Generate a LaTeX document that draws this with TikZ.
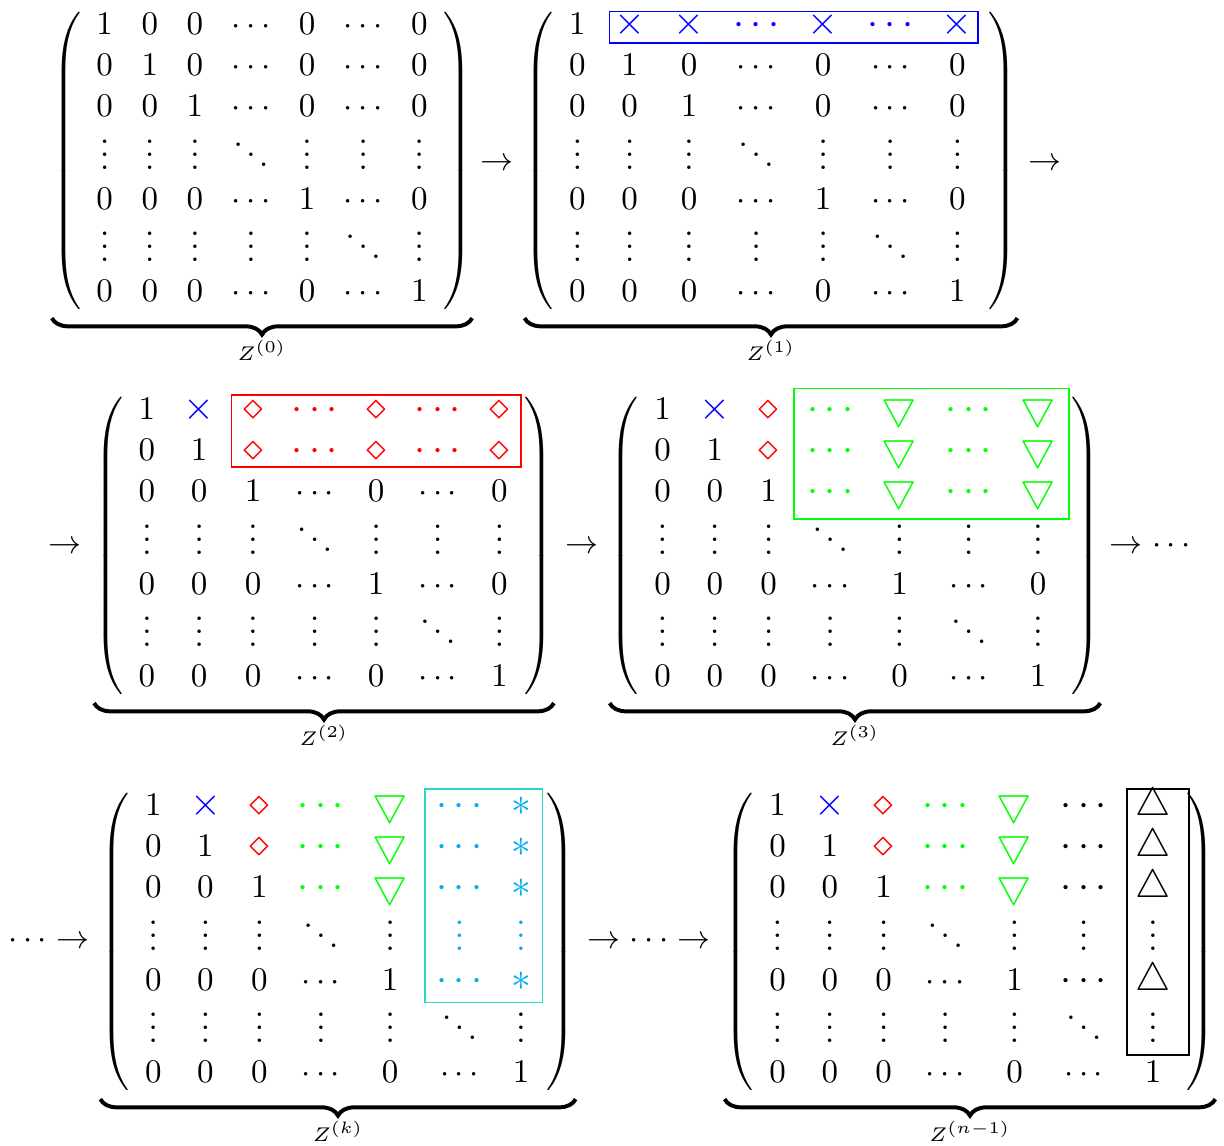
\documentclass[tikz,border=0pt]{standalone}
\usepackage{amsmath}
\usetikzlibrary{matrix,fit,decorations.pathreplacing}
\definecolor{zcyan}{RGB}{0,174,239}
\definecolor{zturq}{RGB}{40,215,200}
\tikzset{
  zmat/.style ={matrix of math nodes, left delimiter=(, right delimiter=),
                inner sep=0pt, column sep=2pt, row sep=1.3pt,
                nodes={inner xsep=3.33pt, inner ysep=0pt,
                       text height=7.7pt, text depth=3.5pt}},
  bx/.style   ={text=blue,  font=\large},
  rd/.style   ={text=red,   font=\large},
  gr/.style   ={text=green, font=\large},
  cy/.style   ={text=zcyan, font=\large},
  cyv/.style  ={text=zcyan},
  bk/.style   ={font=\large},
  zbox/.style ={draw, inner sep=0pt, line width=0.45pt},
  zbrace/.style={decorate, decoration={brace, mirror, amplitude=5pt},
                 line width=1.2pt},
  zlab/.style ={font=\fontsize{6}{7}\selectfont, inner sep=1pt},
  arr/.style  ={anchor=base},
}

\begin{document}
\begin{tikzpicture}[x=0.30303pt, y=-0.30303pt]
  \useasboundingbox (0,0) rectangle (1224,1146);

  % ---- Z^(0) -----------------------------------------------------------
  \matrix[zmat] (z0) at (262,161) {
    1 & 0 & 0 & \cdots & 0 & \cdots & 0 \\
    0 & 1 & 0 & \cdots & 0 & \cdots & 0 \\
    0 & 0 & 1 & \cdots & 0 & \cdots & 0 \\[3.5pt]
    \vdots & \vdots & \vdots & \ddots & \vdots & \vdots & \vdots \\[-0.5pt]
    0 & 0 & 0 & \cdots & 1 & \cdots & 0 \\[3.5pt]
    \vdots & \vdots & \vdots & \vdots & \vdots & \ddots & \vdots \\[-0.5pt]
    0 & 0 & 0 & \cdots & 0 & \cdots & 1 \\
  };

  % ---- Z^(1) -----------------------------------------------------------
  \matrix[zmat] (z1) at (771,161) {
    1 & |[bx]|\times & |[bx]|\times & |[bx]|\cdots & |[bx]|\times & |[bx]|\cdots & |[bx]|\times \\
    0 & 1 & 0 & \cdots & 0 & \cdots & 0 \\
    0 & 0 & 1 & \cdots & 0 & \cdots & 0 \\[3.5pt]
    \vdots & \vdots & \vdots & \ddots & \vdots & \vdots & \vdots \\[-0.5pt]
    0 & 0 & 0 & \cdots & 1 & \cdots & 0 \\[3.5pt]
    \vdots & \vdots & \vdots & \vdots & \vdots & \ddots & \vdots \\[-0.5pt]
    0 & 0 & 0 & \cdots & 0 & \cdots & 1 \\
  };
  \node[zbox, draw=blue, inner xsep=-2pt, inner ysep=-1pt,
        fit=(z1-1-2)(z1-1-7)] (z1box) {};

  % ---- Z^(2) -----------------------------------------------------------
  \matrix[zmat] (z2) at (324,546) {
    1 & |[bx]|\times & |[rd]|\diamond & |[rd]|\cdots & |[rd]|\diamond & |[rd]|\cdots & |[rd]|\diamond \\
    0 & 1 & |[rd]|\diamond & |[rd]|\cdots & |[rd]|\diamond & |[rd]|\cdots & |[rd]|\diamond \\
    0 & 0 & 1 & \cdots & 0 & \cdots & 0 \\[3.5pt]
    \vdots & \vdots & \vdots & \ddots & \vdots & \vdots & \vdots \\[-0.5pt]
    0 & 0 & 0 & \cdots & 1 & \cdots & 0 \\[3.5pt]
    \vdots & \vdots & \vdots & \vdots & \vdots & \ddots & \vdots \\[-0.5pt]
    0 & 0 & 0 & \cdots & 0 & \cdots & 1 \\
  };
  \node[zbox, draw=red, inner ysep=-1.2pt, yshift=0.6pt,
        fit=(z2-1-3)(z2-2-7)] (z2box) {};

  % ---- Z^(3) -----------------------------------------------------------
  \matrix[zmat] (z3) at (855,546) {
    1 & |[bx]|\times & |[rd]|\diamond & |[gr]|\cdots & |[gr]|\bigtriangledown & |[gr]|\cdots & |[gr]|\bigtriangledown \\
    0 & 1 & |[rd]|\diamond & |[gr]|\cdots & |[gr]|\bigtriangledown & |[gr]|\cdots & |[gr]|\bigtriangledown \\
    0 & 0 & 1 & |[gr]|\cdots & |[gr]|\bigtriangledown & |[gr]|\cdots & |[gr]|\bigtriangledown \\[3.5pt]
    \vdots & \vdots & \vdots & \ddots & \vdots & \vdots & \vdots \\[-0.5pt]
    0 & 0 & 0 & \cdots & 1 & \cdots & 0 \\[3.5pt]
    \vdots & \vdots & \vdots & \vdots & \vdots & \ddots & \vdots \\[-0.5pt]
    0 & 0 & 0 & \cdots & 0 & \cdots & 1 \\
  };
  \node[zbox, draw=green, inner ysep=1.5pt, inner xsep=0.5pt,
        fit=(z3-1-4)(z3-3-7)] (z3box) {};

  % ---- Z^(k) -----------------------------------------------------------
  \matrix[zmat] (zk) at (338,942) {
    1 & |[bx]|\times & |[rd]|\diamond & |[gr]|\cdots & |[gr]|\bigtriangledown & |[cy]|\cdots & |[cy]|\ast \\
    0 & 1 & |[rd]|\diamond & |[gr]|\cdots & |[gr]|\bigtriangledown & |[cy]|\cdots & |[cy]|\ast \\
    0 & 0 & 1 & |[gr]|\cdots & |[gr]|\bigtriangledown & |[cy]|\cdots & |[cy]|\ast \\[3.5pt]
    \vdots & \vdots & \vdots & \ddots & \vdots & |[cyv]|\vdots & |[cyv]|\vdots \\[-0.5pt]
    0 & 0 & 0 & \cdots & 1 & |[cy]|\cdots & |[cy]|\ast \\[3.5pt]
    \vdots & \vdots & \vdots & \vdots & \vdots & \ddots & \vdots \\[-0.5pt]
    0 & 0 & 0 & \cdots & 0 & \cdots & 1 \\
  };
  \node[zbox, draw=zturq, fit=(zk-1-6)(zk-5-7)] (zkbox) {};

  % ---- Z^(n-1) ---------------------------------------------------------
  \matrix[zmat] (zn) at (970,942) {
    1 & |[bx]|\times & |[rd]|\diamond & |[gr]|\cdots & |[gr]|\bigtriangledown & |[bk]|\cdots & |[bk]|\bigtriangleup \\
    0 & 1 & |[rd]|\diamond & |[gr]|\cdots & |[gr]|\bigtriangledown & |[bk]|\cdots & |[bk]|\bigtriangleup \\
    0 & 0 & 1 & |[gr]|\cdots & |[gr]|\bigtriangledown & |[bk]|\cdots & |[bk]|\bigtriangleup \\[3.5pt]
    \vdots & \vdots & \vdots & \ddots & \vdots & \vdots & \vdots \\[-0.5pt]
    0 & 0 & 0 & \cdots & 1 & |[bk]|\cdots & |[bk]|\bigtriangleup \\[3.5pt]
    \vdots & \vdots & \vdots & \vdots & \vdots & \ddots & \vdots \\[-0.5pt]
    0 & 0 & 0 & \cdots & 0 & \cdots & 1 \\
  };
  \node[zbox, draw=black, xshift=1.5pt, inner xsep=0.5pt,
        fit=(zn-1-7)(zn-6-7)] (znbox) {};

  % ---- braces and labels -----------------------------------------------
  \draw[zbrace] ([xshift=-10pt,yshift=-1.3pt]z0.south west) -- ([xshift=10pt,yshift=-1.3pt]z0.south east)
    node[zlab, midway, below=5pt] (z0lab) {$Z^{(0)}$};
  \draw[zbrace] ([xshift=-10pt,yshift=-1.3pt]z1.south west) -- ([xshift=10pt,yshift=-1.3pt]z1.south east)
    node[zlab, midway, below=5pt] (z1lab) {$Z^{(1)}$};
  \draw[zbrace] ([xshift=-10pt,yshift=-1.3pt]z2.south west) -- ([xshift=10pt,yshift=-1.3pt]z2.south east)
    node[zlab, midway, below=5pt] (z2lab) {$Z^{(2)}$};
  \draw[zbrace] ([xshift=-10pt,yshift=-1.3pt]z3.south west) -- ([xshift=10pt,yshift=-1.3pt]z3.south east)
    node[zlab, midway, below=5pt] (z3lab) {$Z^{(3)}$};
  \draw[zbrace] ([xshift=-10pt,yshift=-1.3pt]zk.south west) -- ([xshift=10pt,yshift=-1.3pt]zk.south east)
    node[zlab, midway, below=5pt] (zklab) {$Z^{(k)}$};
  \draw[zbrace] ([xshift=-10pt,yshift=-1.3pt]zn.south west) -- ([xshift=10pt,yshift=-1.3pt]zn.south east)
    node[zlab, midway, below=5pt] (znlab) {$Z^{(n-1)}$};

  % ---- arrows between the stages ---------------------------------------
  \node[arr] (a01) at (497,170)  {$\rightarrow$};
  \node[arr] (a12) at (1045,170) {$\rightarrow$};
  \node[arr] (a2)  at (65,553)   {$\rightarrow$};
  \node[arr] (a23) at (582,553)  {$\rightarrow$};
  \node[arr] (a3)  at (1153,553) {$\rightarrow\cdots$};
  \node[arr] (ak)  at (49,948)   {$\cdots\rightarrow$};
  \node[arr] (akn) at (649,948)  {$\rightarrow\cdots\rightarrow$};
\end{tikzpicture}
\end{document}
